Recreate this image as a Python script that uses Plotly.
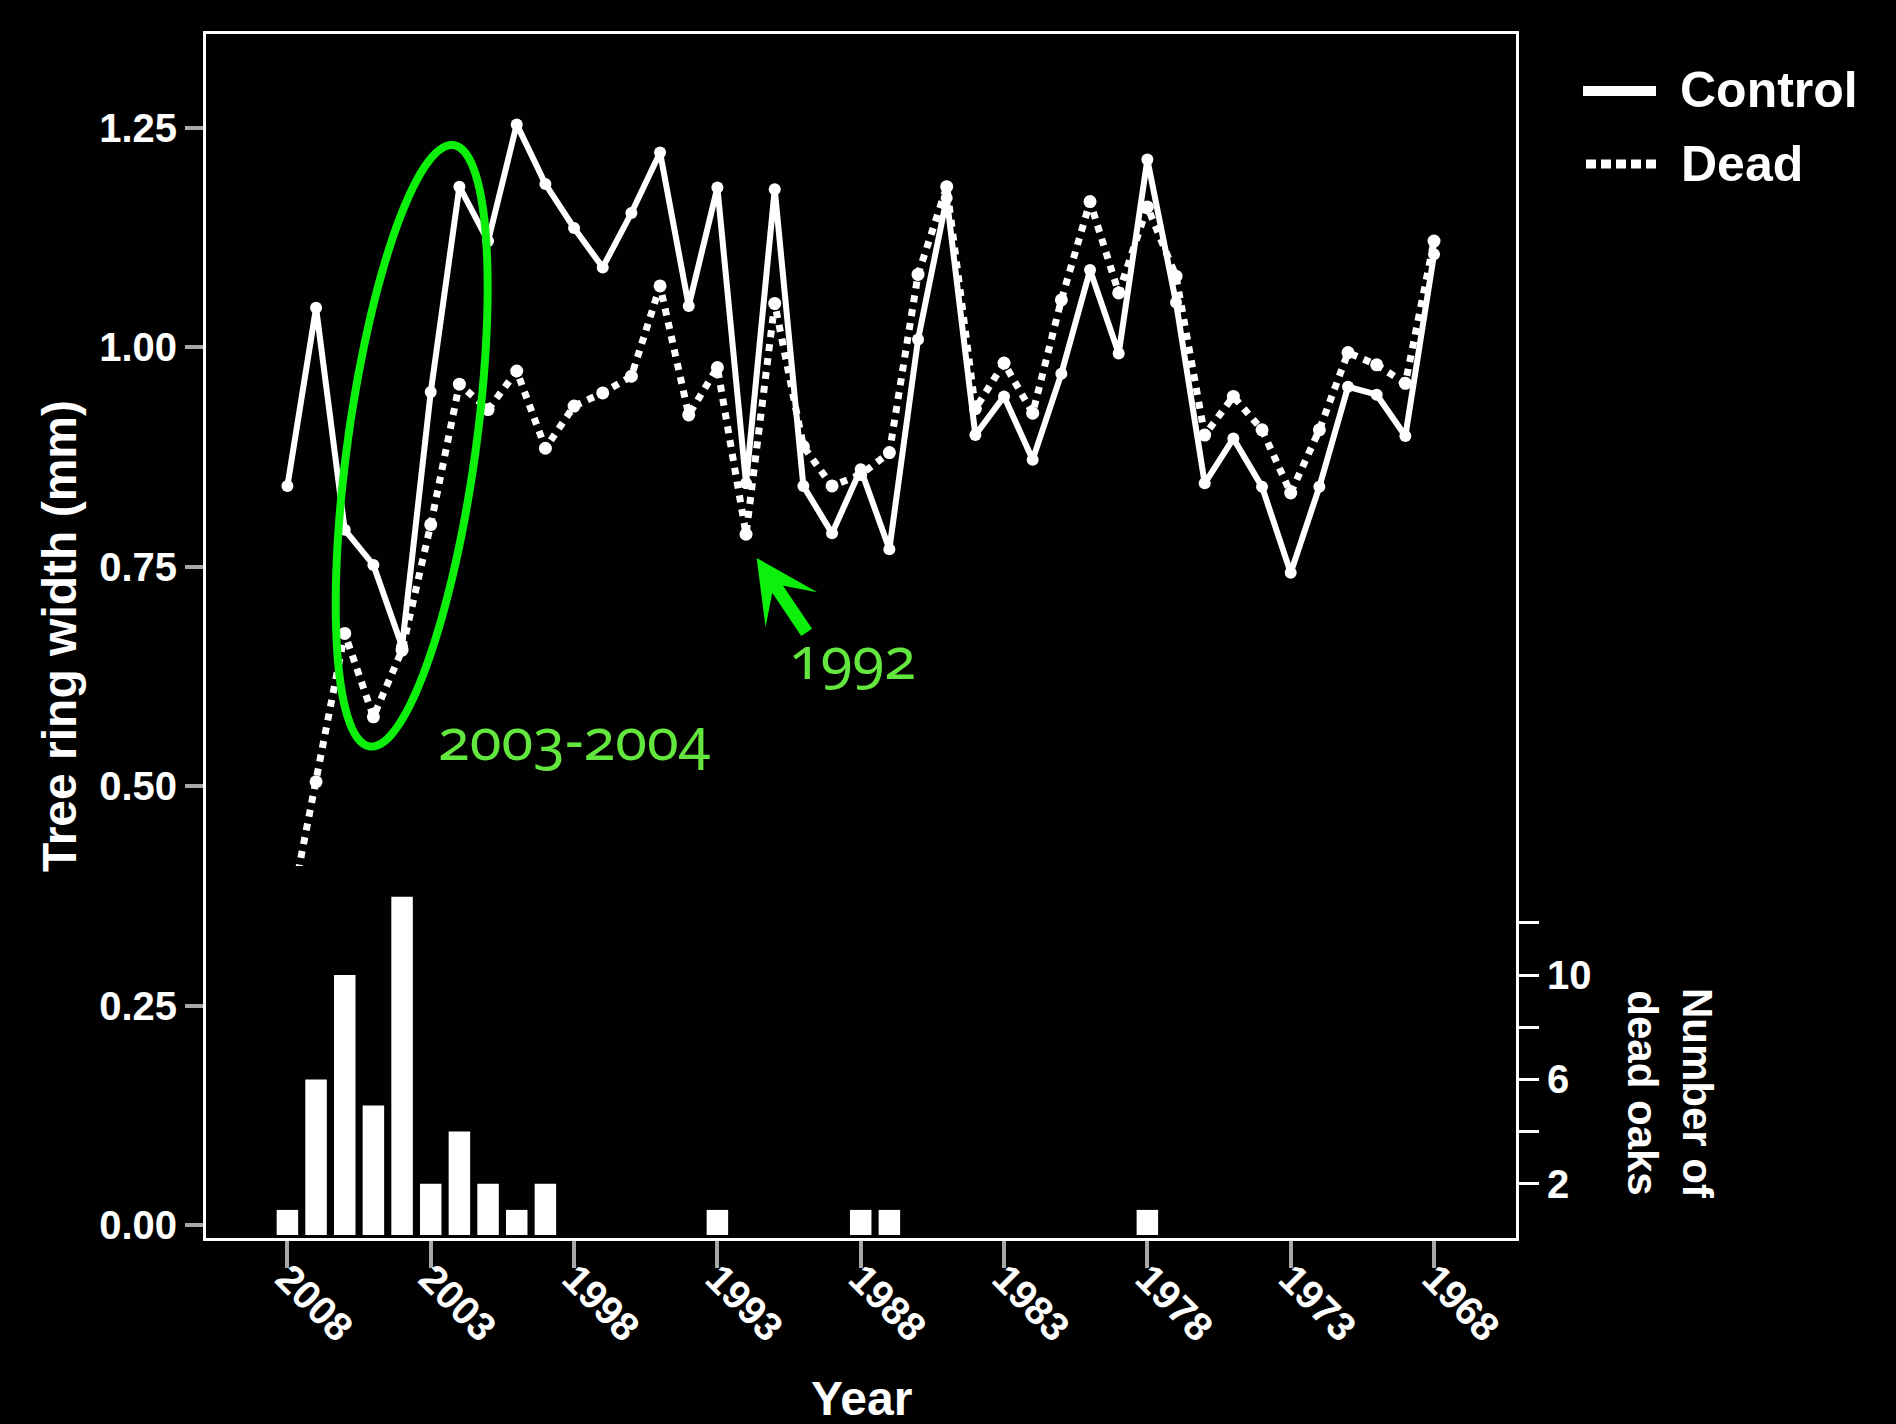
import math
import plotly.graph_objects as go

# ---------------- data ----------------
years = [2008, 2007, 2006, 2005, 2004, 2003, 2002, 2001, 2000, 1999,
         1998, 1997, 1996, 1995, 1994, 1993, 1992, 1991, 1990, 1989,
         1988, 1987, 1986, 1985, 1984, 1983, 1982, 1981, 1980, 1979,
         1978, 1977, 1976, 1975, 1974, 1973, 1972, 1971, 1970, 1969,
         1968]

control_mm = [0.842, 1.045, 0.792, 0.752, 0.659, 0.949, 1.183, 1.121, 1.254, 1.186,
              1.136, 1.091, 1.153, 1.222, 1.047, 1.182, 0.845, 1.180, 0.842, 0.788,
              0.861, 0.770, 1.009, 1.170, 0.900, 0.944, 0.872, 0.970, 1.088, 0.993,
              1.214, 1.051, 0.845, 0.896, 0.841, 0.743, 0.841, 0.955, 0.946, 0.899,
              1.106]

dead_mm = [0.340, 0.505, 0.674, 0.579, 0.655, 0.798, 0.958, 0.929, 0.973, 0.885,
           0.933, 0.948, 0.967, 1.070, 0.923, 0.977, 0.787, 1.050, 0.887, 0.842,
           0.855, 0.880, 1.083, 1.183, 0.930, 0.982, 0.925, 1.054, 1.166, 1.062,
           1.160, 1.081, 0.900, 0.944, 0.906, 0.834, 0.906, 0.994, 0.980, 0.959,
           1.121]

mortality_years = [2008, 2007, 2006, 2005, 2004, 2003, 2002, 2001, 2000, 1999,
                   1993, 1988, 1987, 1978]
dead_oak_counts = [1, 6, 10, 5, 13, 2, 4, 2, 1, 2, 1, 1, 1, 1]

year_ticks = [2008, 2003, 1998, 1993, 1988, 1983, 1978, 1973, 1968]
width_ticks = [0.0, 0.25, 0.50, 0.75, 1.00, 1.25]
count_ticks = [2, 4, 6, 8, 10, 12]
count_tick_text = ["2", "", "6", "", "10", ""]

# ---------------- geometry / style ----------------
W, H = 1896, 1424
L, R, T, B = 206, 1516, 34, 1238          # frame of the main panel (px)
X_RANGE = [2010.84, 1965.14]              # reversed year axis
Y_RANGE = [-0.0149, 1.357]

FONT = "Liberation Sans, Arial, sans-serif"
LABEL_FONT = "Noto Sans, Lato, sans-serif"
WHITE = "#ffffff"
TICK_GREY = "#a8a8a8"
GREEN = "#0cf00c"
LABEL_GREEN = "#63e63d"


def px_x(px):
    return (px - L) / (R - L)


def px_y(py):
    return (B - py) / (B - T)


# lower panel holding the mortality bars (own opaque background)
bar_dom_x = [px_x(209), px_x(1513)]
bar_dom_y = [px_y(1235), px_y(866)]
x2_range = [X_RANGE[0] + (X_RANGE[1] - X_RANGE[0]) * d for d in bar_dom_x]
COUNT_ZERO_PX, COUNT_PX = 1236.0, 26.1
y2_range = [(COUNT_ZERO_PX - 1235) / COUNT_PX, (COUNT_ZERO_PX - 866) / COUNT_PX]

fig = go.Figure()

fig.add_trace(go.Scatter(
    x=years, y=control_mm, name="Control", mode="lines+markers",
    line=dict(color=WHITE, width=6),
    marker=dict(color=WHITE, size=12),
    showlegend=False, hoverinfo="skip",
))
fig.add_trace(go.Scatter(
    x=years, y=dead_mm, name="Dead", mode="lines+markers",
    line=dict(color=WHITE, width=7, dash="7px,7px"),
    marker=dict(color=WHITE, size=13),
    showlegend=False, hoverinfo="skip",
))
fig.add_trace(go.Bar(
    x=mortality_years, y=dead_oak_counts, name="Number of dead oaks",
    width=0.75, marker=dict(color=WHITE, line=dict(width=0)),
    xaxis="x2", yaxis="y2", showlegend=False, hoverinfo="skip",
))

tick_font = dict(family=FONT, size=40, color=WHITE, weight="bold")

# ---------------- shapes: 2003-2004 ellipse and legend keys ----------------
cx, cy = 411.7, 445.8
a_ax, b_ax, tilt = 303.6, 64.0, math.radians(7.93)
pts = []
for i in range(121):
    t = 2 * math.pi * i / 120
    ex = cx + a_ax * math.cos(t) * math.sin(tilt) + b_ax * math.sin(t) * math.cos(tilt)
    ey = cy - a_ax * math.cos(t) * math.cos(tilt) + b_ax * math.sin(t) * math.sin(tilt)
    pts.append(f"{px_x(ex):.5f},{px_y(ey):.5f}")
ellipse_path = "M " + " L ".join(pts) + " Z"

shapes = [
    dict(type="path", path=ellipse_path, xref="paper", yref="paper",
         line=dict(color=GREEN, width=8), layer="above"),
    dict(type="line", xref="paper", yref="paper",
         x0=px_x(1583), x1=px_x(1656), y0=px_y(91), y1=px_y(91),
         line=dict(color=WHITE, width=10)),
    dict(type="line", xref="paper", yref="paper",
         x0=px_x(1586), x1=px_x(1660), y0=px_y(164), y1=px_y(164),
         line=dict(color=WHITE, width=9, dash="10px,5px")),
]

onum = ('<span style="font-variant-numeric:oldstyle-nums;'
        "font-feature-settings:'onum'\">{}</span>")

annotations = [
    dict(text="Control", xref="paper", yref="paper", x=px_x(1678), y=px_y(90),
         xanchor="left", yanchor="middle", showarrow=False,
         font=dict(family=FONT, size=50, color=WHITE, weight="bold")),
    dict(text="Dead", xref="paper", yref="paper", x=px_x(1679), y=px_y(164),
         xanchor="left", yanchor="middle", showarrow=False,
         font=dict(family=FONT, size=50, color=WHITE, weight="bold")),
    dict(text="Number of<br>dead oaks", xref="paper", yref="paper",
         x=px_x(1670), y=px_y(1093), xanchor="center", yanchor="middle",
         textangle=90, showarrow=False,
         font=dict(family=FONT, size=42, color=WHITE, weight="bold")),
    dict(text="Year", xref="paper", yref="paper", x=px_x(861), y=px_y(1398),
         xanchor="center", yanchor="middle", showarrow=False,
         font=dict(family=FONT, size=48, color=WHITE, weight="bold")),
    dict(text=onum.format("2003-2004"), xref="paper", yref="paper",
         x=px_x(574), y=px_y(737), xanchor="center", yanchor="middle",
         showarrow=False, font=dict(family=LABEL_FONT, size=58, color=LABEL_GREEN)),
    dict(text=onum.format("1992"), xref="paper", yref="paper",
         x=px_x(852), y=px_y(656), xanchor="center", yanchor="middle",
         showarrow=False, font=dict(family=LABEL_FONT, size=58, color=LABEL_GREEN)),
    dict(text="", x=1991.63, y=0.76, xref="x", yref="y", ax=51, ay=76,
         showarrow=True, arrowhead=3, arrowwidth=13, arrowsize=0.8,
         arrowcolor=GREEN, standoff=0),
]

fig.update_layout(
    width=W, height=H,
    margin=dict(l=L, r=W - R, t=T, b=H - B, pad=0),
    paper_bgcolor="#000000",
    plot_bgcolor="#010101",
    font=dict(family=FONT, color=WHITE),
    showlegend=False,
    xaxis=dict(
        domain=[0, 1], range=X_RANGE, tickvals=year_ticks,
        ticks="outside", ticklen=27, tickwidth=4, tickcolor=TICK_GREY,
        tickangle=45, tickfont=tick_font, ticklabelstandoff=-29,
        showline=True, linecolor=WHITE, linewidth=3, mirror=True,
        showgrid=False, zeroline=False,
    ),
    yaxis=dict(
        domain=[0, 1], range=Y_RANGE, tickvals=width_ticks, tickformat=".2f",
        ticks="outside", ticklen=18, tickwidth=4, tickcolor=TICK_GREY,
        tickfont=tick_font, ticklabelstandoff=0,
        showline=True, linecolor=WHITE, linewidth=3, mirror=True,
        showgrid=False, zeroline=False,
        title=dict(text="Tree ring width (mm)", standoff=8,
                   font=dict(family=FONT, size=48, color=WHITE, weight="bold")),
    ),
    xaxis2=dict(
        domain=bar_dom_x, range=x2_range, anchor="y2",
        visible=False, showgrid=False, zeroline=False,
    ),
    yaxis2=dict(
        domain=bar_dom_y, range=y2_range, anchor="free", position=1.0,
        side="right", tickvals=count_ticks, ticktext=count_tick_text,
        ticks="outside", ticklen=22, tickwidth=3, tickcolor=WHITE,
        tickfont=tick_font, showline=False, showgrid=False, zeroline=False,
    ),
    shapes=shapes,
    annotations=annotations,
)

fig.write_html("out.html")
